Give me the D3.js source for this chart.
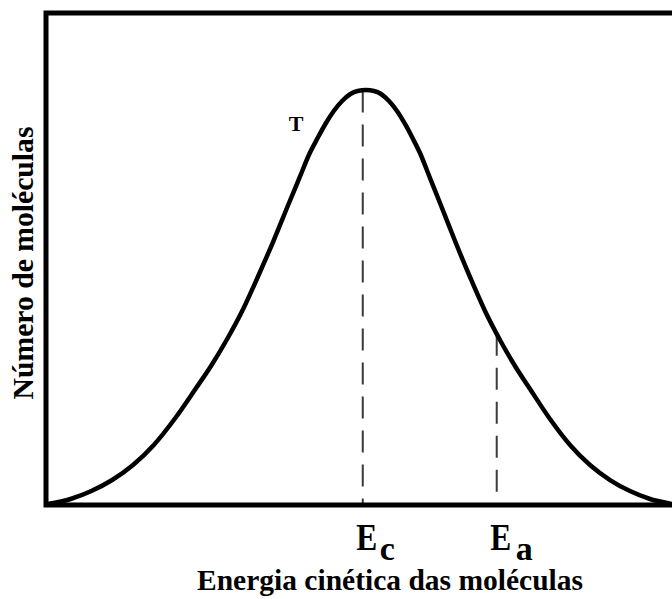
<!DOCTYPE html>
<html>
<head>
<meta charset="utf-8">
<script src="https://cdn.jsdelivr.net/npm/d3@7/dist/d3.min.js"></script>
<style>
  html, body { margin: 0; padding: 0; background: #fff; }
  svg { display: block; }
  text { font-family: "Liberation Serif", "Times New Roman", serif; font-weight: bold; fill: #000; }
</style>
</head>
<body>
<svg id="chart" width="672" height="599"></svg>
<script>
// Distribution of molecular kinetic energies (arbitrary units, 0–100 on both axes)
const energy = [0.29, 3.93, 7.25, 10.57, 13.90, 17.22, 20.54, 23.87, 26.36, 28.85, 31.34, 33.83,
                36.33, 38.82, 40.48, 42.14, 43.31, 44.63, 45.97, 47.30, 48.63, 49.79,
                51.12,
                52.40, 53.51, 54.79, 56.07, 57.35, 58.63, 59.74, 61.34, 62.94, 65.34, 67.73,
                70.13, 72.52, 74.92, 77.32, 80.51, 83.71, 86.90, 90.10, 93.29, 96.49, 100];
const molecules = [0.24, 1.45, 3.37, 6.02, 9.64, 14.46, 20.72, 27.95, 33.49, 39.76, 46.75, 54.94,
                   63.61, 72.77, 78.80, 84.82, 88.19, 91.81, 94.94, 97.35, 99.04, 99.76,
                   100,
                   99.76, 99.04, 97.35, 94.94, 91.81, 88.19, 84.82, 78.80, 72.77, 63.61, 54.94,
                   46.75, 39.76, 33.49, 27.95, 20.72, 14.46, 9.64, 6.02, 3.37, 1.45, 0.24];

// Marked energies on the horizontal axis
const markers = [
  { name: "E", sub: "c", energy: 50.6 },
  { name: "E", sub: "a", energy: 72.0 }
];

const curveLabel = "T";
const xTitle = "Energia cinética das moléculas";
const yTitle = "Número de moléculas";

const svg = d3.select("#chart");
const plotLeft = 46, plotRight = 672, plotTop = 13, plotBottom = 505;

const x = d3.scaleLinear().domain([0, 100]).range([plotLeft, plotRight]);
const y = d3.scaleLinear().domain([0, 100]).range([plotBottom, 90]);

const points = energy.map((e, i) => ({ e, n: molecules[i] }));

// value of the curve at a given energy (linear between read points)
function curveAt(e) {
  const i = d3.bisector(d => d.e).left(points, e);
  if (i <= 0) return points[0].n;
  if (i >= points.length) return points[points.length - 1].n;
  const a = points[i - 1], b = points[i];
  const t = (e - a.e) / (b.e - a.e);
  return a.n + t * (b.n - a.n);
}

// dashed drop lines from the curve to the axis
svg.append("g")
  .selectAll("line")
  .data(markers)
  .join("line")
  .attr("x1", d => x(d.energy))
  .attr("x2", d => x(d.energy))
  .attr("y1", d => y(curveAt(d.energy)))
  .attr("y2", y(0))
  .attr("stroke", "#3a3a3a")
  .attr("stroke-width", 2)
  .attr("stroke-dasharray", "22,12");

// the distribution curve
const line = d3.line()
  .x(d => x(d.e))
  .y(d => y(d.n))
  .curve(d3.curveMonotoneX);

svg.append("path")
  .datum(points)
  .attr("d", line)
  .attr("fill", "none")
  .attr("stroke", "#000")
  .attr("stroke-width", 4.5)
  .attr("stroke-linejoin", "round");

// frame (right side runs past the edge)
svg.append("path")
  .attr("d", `M${plotRight + 8},${plotTop} H${plotLeft} V${plotBottom} H${plotRight + 8}`)
  .attr("fill", "none")
  .attr("stroke", "#000")
  .attr("stroke-width", 5);

// axis markers
const mk = svg.append("g").selectAll("g").data(markers).join("g");
mk.append("text")
  .attr("x", d => x(d.energy) + 4)
  .attr("y", 550)
  .attr("text-anchor", "middle")
  .attr("font-size", 37)
  .attr("textLength", 21)
  .attr("lengthAdjust", "spacingAndGlyphs")
  .text(d => d.name);
mk.append("text")
  .attr("x", d => x(d.energy) + 17 + (d.sub === "a" ? 2 : 0))
  .attr("y", 560)
  .attr("font-size", 34)
  .text(d => d.sub);

// curve label
svg.append("text")
  .attr("x", 296)
  .attr("y", 131)
  .attr("text-anchor", "middle")
  .attr("font-size", 22)
  .text(curveLabel);

// axis titles
svg.append("text")
  .attr("x", 390)
  .attr("y", 590)
  .attr("text-anchor", "middle")
  .attr("font-size", 29)
  .attr("textLength", 386)
  .attr("lengthAdjust", "spacingAndGlyphs")
  .text(xTitle);

svg.append("text")
  .attr("transform", "translate(33,263) rotate(-90)")
  .attr("text-anchor", "middle")
  .attr("font-size", 29)
  .attr("textLength", 273)
  .attr("lengthAdjust", "spacingAndGlyphs")
  .text(yTitle);
</script>
</body>
</html>
